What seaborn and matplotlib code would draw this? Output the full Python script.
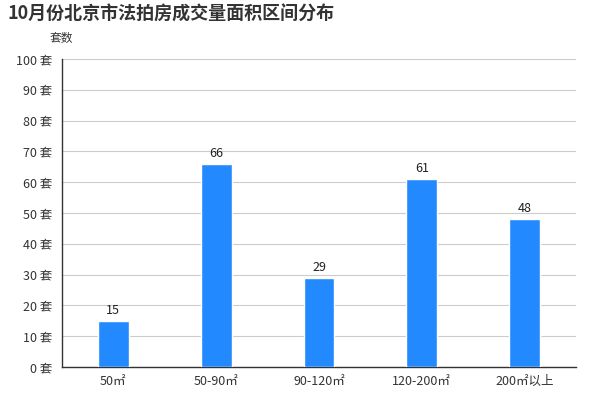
import matplotlib
matplotlib.use("Agg")
import matplotlib.pyplot as plt
import seaborn as sns
import pandas as pd
from matplotlib.ticker import FixedLocator

categories = ["50㎡", "50-90㎡", "90-120㎡", "120-200㎡", "200㎡以上"]
values = [15, 66, 29, 61, 48]
y_ticks = [0, 10, 20, 30, 40, 50, 60, 70, 80, 90, 100]
y_tick_labels = [f"{v} 套" for v in y_ticks]

sns.set_theme(style="white")
plt.rcParams['font.family'] = ['Noto Sans CJK SC', 'DejaVu Sans']

df = pd.DataFrame({"cat": categories, "val": values})

fig = plt.figure(figsize=(6, 4), dpi=100)
ax = fig.add_axes([0.1033, 0.0825, 0.8567, 0.77])
sns.barplot(data=df, x="cat", y="val", color="#2389FF", width=0.3,
            saturation=1, ax=ax, zorder=3)

ax.set_xlim(-0.5, len(categories) - 0.5)
ax.set_ylim(0, 100)
ax.set_yticks(y_ticks)
ax.set_yticklabels(y_tick_labels, fontsize=9, color="#333333")
ax.yaxis.grid(True, color="#cccccc", linewidth=0.8, zorder=0)
ax.xaxis.grid(False)

ax.set_xticks(range(len(categories)))
ax.set_xticklabels(categories, fontsize=9, color="#333333")
ax.tick_params(axis="x", which="major", length=0, pad=6)
ax.xaxis.set_minor_locator(FixedLocator([i - 0.5 for i in range(len(categories) + 1)]))
ax.tick_params(axis="x", which="minor", length=4, color="#333333", width=1, direction="out")
ax.tick_params(axis="y", length=4, color="#333333", width=1, direction="out", pad=3)

for s in ["top", "right"]:
    ax.spines[s].set_visible(False)
for s in ["left", "bottom"]:
    ax.spines[s].set_color("#333333")
    ax.spines[s].set_linewidth(1)

ax.set_xlabel("")
ax.set_ylabel("")

for c in ax.containers:
    ax.bar_label(c, labels=[str(v) for v in values], padding=3, fontsize=9, color="#222222")

fig.text(0.013, 0.965, "10月份北京市法拍房成交量面积区间分布", fontsize=13,
         fontweight="bold", color="#333333", va="center", ha="left")
fig.text(0.083, 0.905, "套数", fontsize=8.5, color="#333333", va="center", ha="left")

fig.savefig("out.png", dpi=100)
